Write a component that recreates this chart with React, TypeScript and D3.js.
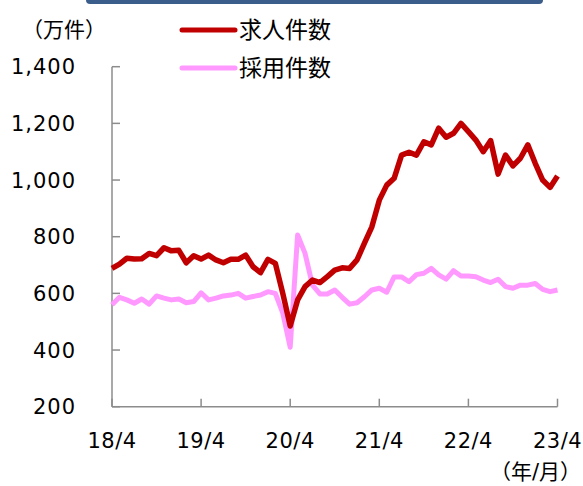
import * as d3 from "d3";

// monthly, 2018/4 .. 2023/4
const jobOffers = [
  688, 703, 724, 721, 722, 741, 733, 761, 750, 752, 708, 733,
  721, 735, 718, 708, 720, 720, 735, 694, 673, 720, 706, 600,
  485, 577, 624, 647, 638, 659, 682, 690, 688, 718, 777, 835,
  929, 982, 1006, 1088, 1098, 1088, 1135, 1124, 1183, 1151, 1165, 1200,
  1171, 1141, 1100, 1139, 1021, 1088, 1050, 1077, 1124, 1059, 1000, 974,
  1014,
];

const hires = [
  560, 586, 577, 565, 580, 562, 591, 583, 577, 580, 567, 571,
  602, 577, 583, 591, 594, 600, 583, 589, 594, 606, 600, 530,
  410, 806, 741, 629, 598, 598, 612, 586, 562, 567, 588, 612,
  618, 604, 658, 658, 641, 666, 671, 688, 665, 650, 680, 661,
  661, 659, 647, 638, 650, 624, 618, 629, 629, 635, 614, 606,
  612,
];

const yTicks = [200, 400, 600, 800, 1000, 1200, 1400];
const xTickLabels = ["18/4", "19/4", "20/4", "21/4", "22/4", "23/4"];
const seriesNames = ["求人件数", "採用件数"];

const W = 583;
const H = 486;
const FONT = "'DejaVu Sans', 'Noto Sans CJK JP', sans-serif";

const App = () => {
  const x = d3.scaleLinear().domain([0, 60]).range([112, 557.5]);
  const y = d3.scaleLinear().domain([200, 1400]).range([406.7, 66.7]);

  const line = d3.line<number>()
    .x((d, i) => x(i))
    .y(d => y(d));

  const axisColor = "#8c8c8c";
  const colors = ["#c00000", "#ff99ff"];

  return (
    <svg width={W} height={H} style={{ position: "absolute", left: 0, top: 0 }}>
      {/* header bar cut off at the top */}
      <rect x={86} y={-8} width={457} height={12} rx={4} fill="#3b5d8c" />

      {/* unit label */}
      <text x={22} y={37} fontSize={21} fontFamily={FONT} fill="#000">（万件）</text>

      {/* y axis */}
      <line x1={x(0)} x2={x(0)} y1={y(1400)} y2={y(200)} stroke={axisColor} strokeWidth={1.5} />
      {yTicks.map(t => (
        <g key={t}>
          <line x1={x(0)} x2={x(0) + 8} y1={y(t)} y2={y(t)} stroke={axisColor} strokeWidth={1.5} />
          <text x={76} y={y(t)} dy="0.36em" textAnchor="end" fontSize={21} letterSpacing={1}
            fontFamily={FONT} fill="#000">
            {d3.format(",")(t)}
          </text>
        </g>
      ))}

      {/* x axis */}
      <line x1={x(0)} x2={x(60)} y1={y(200)} y2={y(200)} stroke={axisColor} strokeWidth={1.5} />
      {xTickLabels.map((lab, i) => (
        <g key={lab}>
          <line x1={x(i * 12)} x2={x(i * 12)} y1={y(200)} y2={y(200) - 8} stroke={axisColor} strokeWidth={1.5} />
          <text x={x(i * 12)} y={448} textAnchor="middle" fontSize={21} letterSpacing={0.5}
            fontFamily={FONT} fill="#000">
            {lab}
          </text>
        </g>
      ))}
      <text x={581} y={479} textAnchor="end" fontSize={21} fontFamily={FONT} fill="#000">（年/月）</text>

      {/* series */}
      <path d={line(hires) ?? ""} fill="none" stroke={colors[1]} strokeWidth={5} strokeLinejoin="round" />
      <path d={line(jobOffers) ?? ""} fill="none" stroke={colors[0]} strokeWidth={5.5} strokeLinejoin="round" />

      {/* legend */}
      {seriesNames.map((name, i) => (
        <g key={name} transform={`translate(0, ${30 + i * 38})`}>
          <line x1={182} x2={235} y1={0} y2={0} stroke={colors[i]} strokeWidth={5} strokeLinecap="round" />
          <text x={239} y={0} dy="0.36em" fontSize={23} fontFamily={FONT} fill="#000">{name}</text>
        </g>
      ))}
    </svg>
  );
};

export default App;
